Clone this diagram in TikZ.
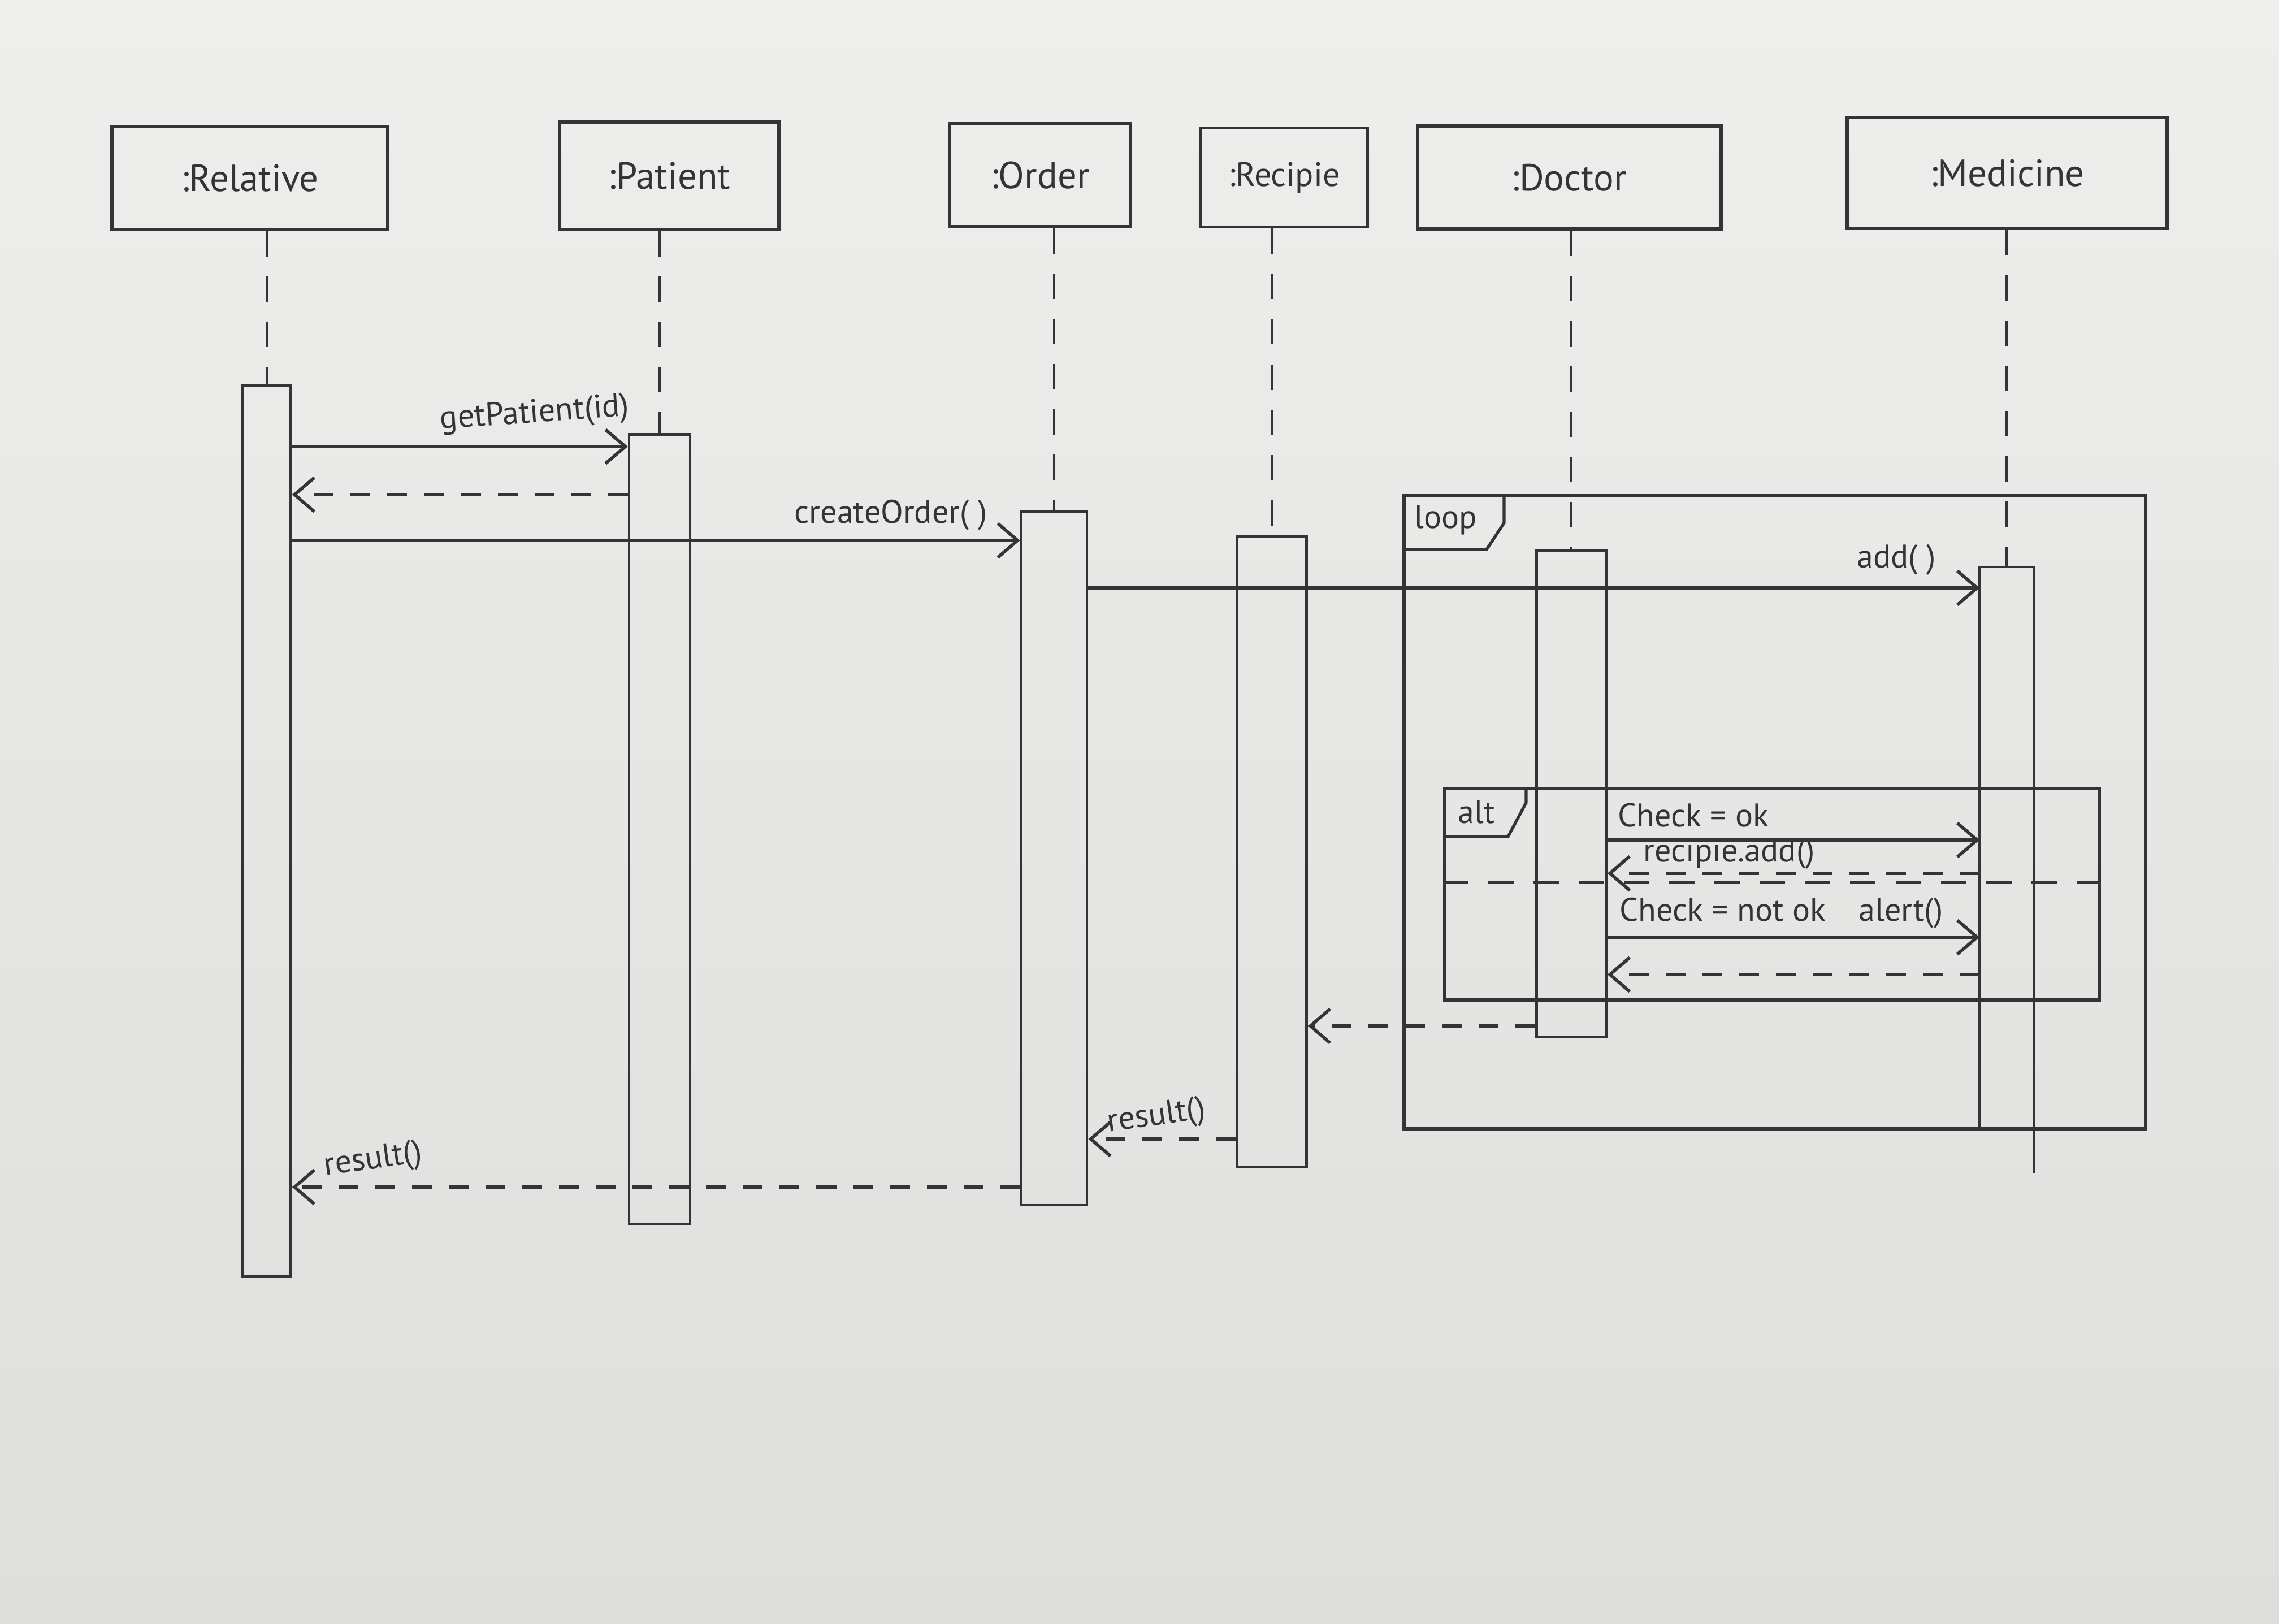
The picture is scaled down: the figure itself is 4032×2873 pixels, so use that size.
\documentclass[tikz,border=0pt]{standalone}
\usepackage{fontspec}
\setmainfont{PT Sans}
\usetikzlibrary{arrows.meta}
\definecolor{paperT}{RGB}{238,238,236}
\definecolor{paperB}{RGB}{222,222,220}
\definecolor{ink}{RGB}{52,52,52}
\begin{document}
\begin{tikzpicture}[x=0.01cm,y=-0.01cm,
  obj/.style={draw=ink, line width=1.6pt, minimum height=1.82cm, font=\fontsize{19}{23}\selectfont, text=ink, inner sep=0},
  act/.style={draw=ink, line width=1.3pt, anchor=north, inner sep=0},
  life/.style={draw=ink, line width=1.1pt, dash pattern=on 0.45cm off 0.35cm},
  msg/.style={draw=ink, line width=1.7pt, -{Straight Barb[length=0.35cm,width=0.6cm,line width=1.6pt]}},
  ret/.style={msg, dash pattern=on 0.35cm off 0.3cm},
  lbl/.style={font=\fontsize{16.5}{20}\selectfont, text=ink, inner sep=2pt},
  framebox/.style={draw=ink, line width=1.8pt, inner sep=0, anchor=north west},
  tabline/.style={draw=ink, line width=1.5pt},
]
% paper
\fill[top color=paperT, bottom color=paperB] (0,0) rectangle (4032,2873);
\useasboundingbox (0,0) rectangle (4032,2873);

% object boxes
\node[obj, minimum width=4.88cm] (rel) at (442,315) {:Relative};
\node[obj, minimum width=3.88cm, minimum height=1.90cm] (pat) at (1184,311) {:Patient};
\node[obj, minimum width=3.21cm] (ord) at (1840,310) {:Order};
\node[obj, minimum width=2.95cm, minimum height=1.75cm, font=\fontsize{17}{21}\selectfont] (rec) at (2272,314) {:Recipie};
\node[obj, minimum width=5.37cm] (doc) at (2776,314) {:Doctor};
\node[obj, minimum width=5.66cm, minimum height=1.96cm] (med) at (3551,306) {:Medicine};

% activations
\node[act, minimum width=0.85cm, minimum height=15.76cm] (aRel) at (472,679) {};
\node[act, minimum width=1.08cm, minimum height=13.96cm] (aPat) at (1167,766) {};
\node[act, minimum width=1.16cm, minimum height=12.27cm] (aOrd) at (1865,902) {};
\node[act, minimum width=1.23cm, minimum height=11.16cm] (aRec) at (2250,946) {};
\node[act, minimum width=1.23cm, minimum height=8.59cm] (aDoc) at (2780,972) {};
\node[act, draw=none, minimum width=0.91cm, minimum height=9.87cm] (aMed) at (3550,1003) {};
\draw[ink, line width=1.3pt] (aMed.south west) -- (aMed.north west) -- (aMed.north east) -- ([yshift=-0.8cm]aMed.south east);

% lifelines
\draw[life] (aRel.north |- rel.south) -- (aRel.north);
\draw[life] (aPat.north |- pat.south) -- (aPat.north);
\draw[life] (aOrd.north |- ord.south) -- (aOrd.north);
\draw[life] (aRec.north |- rec.south) -- (aRec.north);
\draw[life] (aDoc.north |- doc.south) -- (aDoc.north);
\draw[life] (aMed.north |- med.south) -- (aMed.north);

% loop frame
\node[framebox, minimum width=13.11cm, minimum height=11.19cm] (loopf) at (2481,874) {};
\draw[tabline] (2661,874) -- (2661,925) -- (2630,972) -- (2481,972);
\node[lbl, anchor=west] (looplbl) at (2495,920) {loop};

% alt frame
\node[framebox, minimum width=11.57cm, minimum height=3.74cm] (altf) at (2553,1392) {};
\draw[tabline] (2700,1392) -- (2700,1420) -- (2668,1480) -- (2553,1480);
\node[lbl] (altlbl) at (2612,1437) {alt};
\coordinate (ysep) at (0,1561);
\draw[life, line width=1.4pt] (altf.west |- ysep) -- (altf.east |- ysep);

% message levels
\coordinate (y1) at (0,790);
\coordinate (y2) at (0,875);
\coordinate (y3) at (0,956);
\coordinate (y4) at (0,1040);
\coordinate (y5) at (0,1486);
\coordinate (y6) at (0,1545);
\coordinate (y7) at (0,1658);
\coordinate (y8) at (0,1724);
\coordinate (y9) at (0,1815);
\coordinate (y10) at (0,2015);
\coordinate (y11) at (0,2100);

% messages
\draw[msg] (aRel.east |- y1) -- (aPat.west |- y1);
\node[lbl, rotate=4] (l1) at (946,733) {getPatient(id)};
\draw[ret] (aPat.west |- y2) -- (aRel.east |- y2);
\draw[msg] (aRel.east |- y3) -- (aOrd.west |- y3);
\node[lbl] (l3) at (1576,911) {createOrder( )};
\draw[msg] (aOrd.east |- y4) -- (aMed.west |- y4);
\node[lbl] (l4) at (3355,990) {add( )};
\draw[msg] (aDoc.east |- y5) -- (aMed.west |- y5);
\node[lbl, anchor=west] (l5) at (2855,1442) {Check = ok};
\draw[ret] (aMed.west |- y6) -- (aDoc.east |- y6);
\node[lbl, anchor=south west] (l6) at (2900,1545) {recipie.add()};
\draw[msg] (aDoc.east |- y7) -- (aMed.west |- y7);
\node[lbl, anchor=south west] (l7) at (2858,1650) {Check = not ok\quad alert()};
\draw[ret] (aMed.west |- y8) -- (aDoc.east |- y8);
\draw[ret] (aDoc.west |- y9) -- (aRec.east |- y9);
\draw[ret] (aRec.west |- y10) -- (aOrd.east |- y10);
\node[lbl, rotate=8] (l10) at (2046,1976) {result()};
\draw[ret] (aOrd.west |- y11) -- (aRel.east |- y11);
\node[lbl, rotate=8] (l11) at (660,2053) {result()};
\end{tikzpicture}
\end{document}
